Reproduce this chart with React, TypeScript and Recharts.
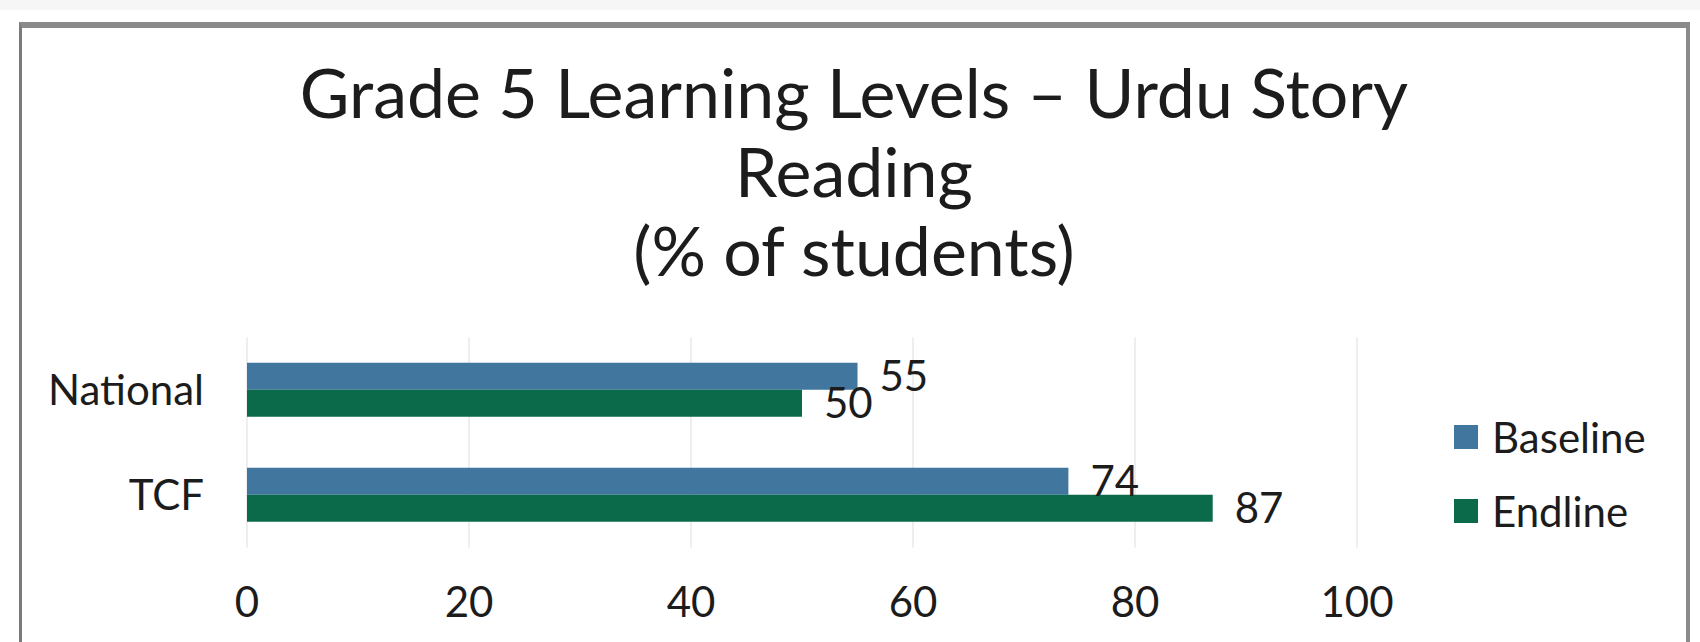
import React from 'react';
import { BarChart, Bar, XAxis, YAxis, CartesianGrid, Legend, LabelList } from 'recharts';

const categories = ['National', 'TCF'];
const baseline = [55, 74];
const endline = [50, 87];
const seriesNames = ['Baseline', 'Endline'];
const xTicks = [0, 20, 40, 60, 80, 100];

const COLORS = ['#41769F', '#0B6A4A']; // blue, green
const FONT = 'Lato, Carlito, Calibri, sans-serif';
const TEXT = '#1c1c1c';

const data = categories.map((name, i) => ({ name, [seriesNames[0]]: baseline[i], [seriesNames[1]]: endline[i] }));

function LegendBox(props: any) {
    const items = props.payload || [];
    return (
        <div style={{ fontFamily: FONT, fontSize: 42, color: TEXT }}>
            {items.map((item: any) => (
                <div key={item.value} style={{ display: 'flex', alignItems: 'center', height: 74 }}>
                    <span style={{ width: 24, height: 24, background: item.color, marginRight: 14, display: 'inline-block' }} />
                    <span>{item.value}</span>
                </div>
            ))}
        </div>
    );
}

export default function App() {
    return (
        <div style={{ position: 'absolute', left: 0, top: 0, width: 1700, height: 642, background: '#fff', overflow: 'hidden' }}>
            <div style={{ position: 'absolute', left: 0, top: 0, width: 1700, height: 10, background: '#f6f6f6' }} />
            {/* outer frame */}
            <div
                style={{
                    position: 'absolute', left: 19, top: 22, width: 1671, height: 700, boxSizing: 'border-box',
                    borderTop: '6px solid #8a8a8a', borderLeft: '3px solid #7a7a7a', borderRight: '4px solid #8a8a8a',
                }}
            />
            <div
                style={{
                    position: 'absolute', left: 20, top: 52, width: 1668, textAlign: 'center',
                    fontFamily: FONT, fontSize: 68, lineHeight: '79px', color: TEXT,
                }}
            >
                Grade 5 Learning Levels – Urdu Story<br />Reading<br />(% of students)
            </div>
            <div style={{ position: 'absolute', left: 0, top: 0 }}>
                <BarChart
                    width={1700}
                    height={642}
                    data={data}
                    layout="vertical"
                    margin={{ top: 337.5, right: 343, bottom: 34.5, left: 0 }}
                    barCategoryGap="24%"
                    barGap={0}
                >
                    <CartesianGrid horizontal={false} stroke="#e8e8e8" strokeWidth={1.5} />
                    <XAxis
                        type="number"
                        domain={[0, 100]}
                        ticks={xTicks}
                        height={60}
                        axisLine={false}
                        tickLine={false}
                        tickSize={0}
                        tickMargin={40}
                        tick={{ fontFamily: FONT, fontSize: 42, fill: TEXT }}
                    />
                    <YAxis
                        type="category"
                        dataKey="name"
                        width={247}
                        axisLine={false}
                        tickLine={false}
                        tickSize={0}
                        tickMargin={43}
                        tick={{ fontFamily: FONT, fontSize: 42, fill: TEXT }}
                    />
                    <Legend
                        layout="vertical"
                        align="center"
                        verticalAlign="middle"
                        content={<LegendBox />}
                        wrapperStyle={{ left: 1454, top: 400, width: 240 }}
                    />
                    {seriesNames.map((s, i) => (
                        <Bar key={s} dataKey={s} fill={COLORS[i]} isAnimationActive={false}>
                            <LabelList dataKey={s} position="right" offset={22} fill={TEXT} fontFamily={FONT} fontSize={42} />
                        </Bar>
                    ))}
                </BarChart>
            </div>
        </div>
    );
}
